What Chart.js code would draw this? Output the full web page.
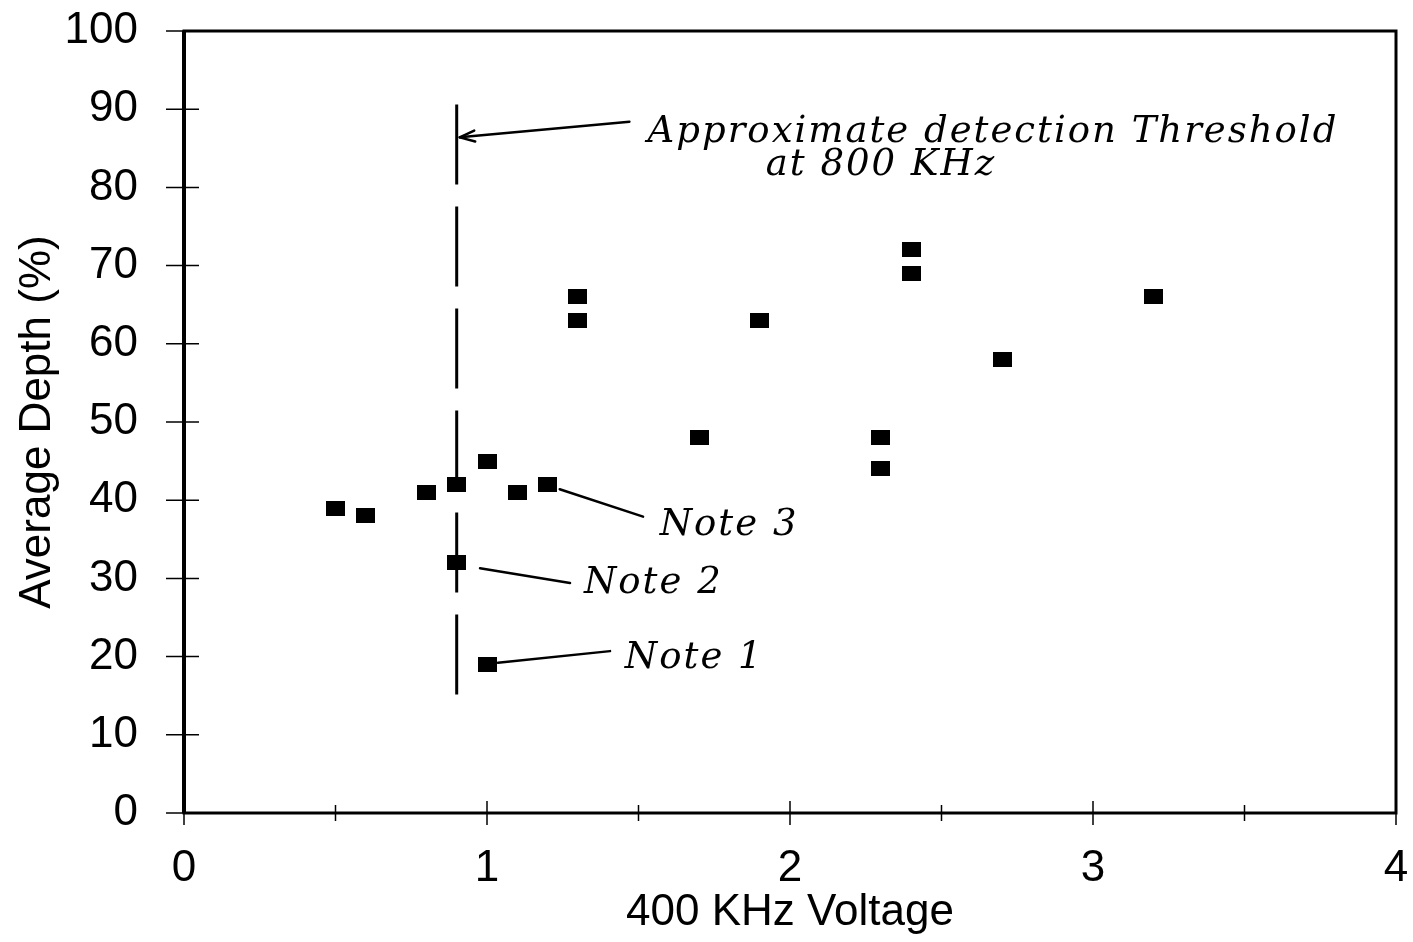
<!DOCTYPE html>
<html>
<head>
<meta charset="utf-8">
<script src="https://cdn.jsdelivr.net/npm/chart.js@4"></script>
<style>
  html, body { margin: 0; padding: 0; background: #fff; }
  #wrap { width: 1413px; height: 942px; }
</style>
</head>
<body>
<div id="wrap"><canvas id="chart" width="1413" height="942"></canvas></div>
<script>
// measured points (400 KHz voltage vs. average depth %)
const voltage = [0.5, 0.6, 0.8, 0.9, 0.9, 1.0, 1.0, 1.1, 1.2, 1.3, 1.3, 1.7, 1.9, 2.3, 2.3, 2.4, 2.4, 2.7, 3.2];
const depth   = [39,  38,  41,  42,  32,  45,  19,  41,  42,  66,  63,  48,  63,  48,  44,  72,  69,  58,  66];

// approximate detection threshold line (dashed), drawn top to bottom
const thresholdX = [0.9, 0.9];
const thresholdY = [90.6, 13.2];

const xTicks = [0, 1, 2, 3, 4];
const yTicks = [0, 10, 20, 30, 40, 50, 60, 70, 80, 90, 100];

// handwritten notes, in data units
const noteText = ["Approximate detection Threshold", "at 800 KHz", "Note 3", "Note 2", "Note 1"];
const noteX = [1.53, 1.92, 1.57, 1.32, 1.455];
const noteY = [85.8, 81.6, 35.5, 28.1, 18.5];
const leaders = [
    [[1.47, 88.4], [0.91, 86.4]],
    [[1.24, 41.4], [1.515, 37.9]],
    [[0.977, 31.3], [1.274, 29.4]],
    [[1.036, 19.2], [1.406, 20.7]],
];

const marker = document.createElement("canvas");
marker.width = 19;
marker.height = 15;
const mctx = marker.getContext("2d");
mctx.fillStyle = "#000";
mctx.fillRect(0, 0, 19, 15);

const font = "'Liberation Sans', Arial, sans-serif";

const framePlugin = {
    id: "frame",
    afterDraw(chart) {
        const { ctx, chartArea: a, scales: { x, y } } = chart;
        ctx.save();
        ctx.strokeStyle = "#000";
        // box
        ctx.lineWidth = 3;
        ctx.strokeRect(a.left, a.top, a.right - a.left, a.bottom - a.top);
        ctx.lineWidth = 4;
        ctx.beginPath();
        ctx.moveTo(a.left, a.top);
        ctx.lineTo(a.left, a.bottom);
        ctx.stroke();
        // ticks crossing the axes
        ctx.lineWidth = 1.5;
        yTicks.forEach((v) => {
            const py = y.getPixelForValue(v);
            ctx.beginPath();
            ctx.moveTo(a.left - 18, py);
            ctx.lineTo(v === 0 || v === 100 ? a.left : a.left + 15, py);
            ctx.stroke();
        });
        for (let v = 0; v <= 4; v += 0.5) {
            const px = x.getPixelForValue(v);
            const len = Number.isInteger(v) ? 12 : 8;
            ctx.beginPath();
            ctx.moveTo(px, a.bottom + len);
            ctx.lineTo(px, v === 0 || v === 4 ? a.bottom : a.bottom - len);
            ctx.stroke();
        }
        // notes and leader lines
        ctx.lineWidth = 2.5;
        ctx.lineCap = "round";
        leaders.forEach((seg, i) => {
            const [p0, p1] = seg.map(([vx, vy]) => [x.getPixelForValue(vx), y.getPixelForValue(vy)]);
            ctx.beginPath();
            ctx.moveTo(p0[0], p0[1]);
            ctx.lineTo(p1[0], p1[1]);
            ctx.stroke();
            if (i === 0) {
                const ang = Math.atan2(p1[1] - p0[1], p1[0] - p0[0]);
                ctx.beginPath();
                ctx.moveTo(p1[0], p1[1]);
                ctx.lineTo(p1[0] - 16 * Math.cos(ang - 0.35), p1[1] - 16 * Math.sin(ang - 0.35));
                ctx.moveTo(p1[0], p1[1]);
                ctx.lineTo(p1[0] - 16 * Math.cos(ang + 0.35), p1[1] - 16 * Math.sin(ang + 0.35));
                ctx.stroke();
            }
        });
        ctx.fillStyle = "#000";
        ctx.textBaseline = "alphabetic";
        ctx.textAlign = "left";
        ctx.font = "italic 37px 'DejaVu Serif', serif";
        ctx.letterSpacing = "2px";
        noteText.forEach((t, i) => {
            ctx.fillText(t, x.getPixelForValue(noteX[i]), y.getPixelForValue(noteY[i]));
        });
        ctx.restore();
    },
};

new Chart(document.getElementById("chart"), {
    type: "scatter",
    data: {
        datasets: [
            {
                label: "Average Depth",
                data: voltage.map((v, i) => ({ x: v, y: depth[i] })),
                pointStyle: marker,
                pointRadius: 10,
                backgroundColor: "#000",
                borderColor: "#000",
            },
            {
                label: "Threshold",
                data: thresholdX.map((v, i) => ({ x: v, y: thresholdY[i] })),
                showLine: true,
                borderColor: "#000",
                borderWidth: 3,
                borderDash: [80, 22],
                pointRadius: 0,
            },
        ],
    },
    options: {
        responsive: false,
        animation: false,
        layout: { padding: { top: 31, right: 17, left: 0, bottom: 0 } },
        plugins: { legend: { display: false }, tooltip: { enabled: false } },
        scales: {
            x: {
                type: "linear",
                min: 0,
                max: 4,
                afterBuildTicks: (s) => { s.ticks = xTicks.map((v) => ({ value: v })); },
                afterFit: (s) => { s.height = 129; s.paddingLeft = 0; s.paddingRight = 0; },
                grid: { display: false, drawTicks: false },
                border: { display: false },
                ticks: { color: "#000", padding: 29, font: { family: font, size: 44 } },
                title: {
                    display: true,
                    text: "400 KHz Voltage",
                    color: "#000",
                    padding: { top: 0, bottom: 3 },
                    font: { family: font, size: 44, lineHeight: 1.2 },
                },
            },
            y: {
                min: 0,
                max: 100,
                afterBuildTicks: (s) => { s.ticks = yTicks.map((v) => ({ value: v })); },
                afterFit: (s) => { s.width = 184; s.paddingTop = 0; s.paddingBottom = 0; },
                grid: { display: false, drawTicks: false },
                border: { display: false },
                ticks: { color: "#000", padding: 46, font: { family: font, size: 44 } },
                title: {
                    display: true,
                    text: "Average Depth (%)",
                    color: "#000",
                    padding: { top: 11, bottom: 0 },
                    font: { family: font, size: 44, lineHeight: 1.2 },
                },
            },
        },
    },
    plugins: [framePlugin],
});
</script>
</body>
</html>
